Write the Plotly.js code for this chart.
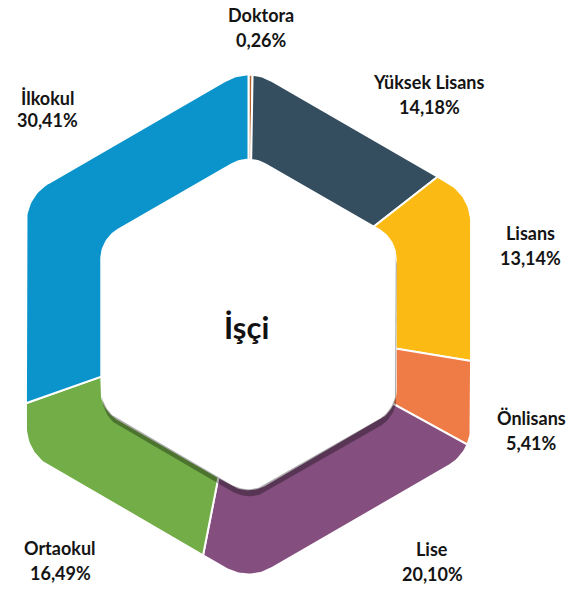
<!DOCTYPE html>
<html>
<head>
<meta charset="utf-8">
<script src="https://cdn.plot.ly/plotly-3.0.1.min.js"></script>
<style>html,body{margin:0;padding:0;background:#fff;}#chart{width:570px;height:589px;}</style>
</head>
<body>
<div id="chart"></div>
<script>
// ---- data ----
const categories = ['Doktora', 'Yüksek Lisans', 'Lisans', 'Önlisans', 'Lise', 'Ortaokul', 'İlkokul'];
const values = [0.26, 14.18, 13.14, 5.41, 20.10, 16.49, 30.41];
const colors = ['#b8652a', '#344d5f', '#fbbb14', '#ef7b46', '#844f7f', '#72ad47', '#0b94cb'];
const centerTitle = 'İşçi';

// ---- layout geometry (pixel space) ----
const W = 570, H = 589;
const cx = 248.5, cy = 324.5;
const R_OUT = 257, RHO_OUT = 45;
const R_IN = 170, RHO_IN = 34;
const labelPos = [[261, 15, 40], [429, 82, 107], [530, 233, 258], [531, 418, 443], [432, 549, 574], [60, 548, 573], [47, 98, 120]];

function ang(p) {
  let a = Math.atan2(p[0] - cx, -(p[1] - cy)) * 180 / Math.PI;
  return (a + 360) % 360;
}
function roundedHex(R, rho, n) {
  const pts = [];
  const d = R - rho / Math.sin(Math.PI / 3);
  for (let k = 0; k < 6; k++) {
    const va = k * 60;
    const ccx = cx + d * Math.sin(va * Math.PI / 180);
    const ccy = cy - d * Math.cos(va * Math.PI / 180);
    for (let j = 0; j <= n; j++) {
      const phi = (va - 30 + 60 * j / n) * Math.PI / 180;
      pts.push([ccx + rho * Math.sin(phi), ccy - rho * Math.cos(phi)]);
    }
  }
  return pts.map(p => ({p: p, a: ang(p)})).sort((u, v) => u.a - v.a);
}
function intersect(hex, theta) {
  const t = theta * Math.PI / 180;
  const d = [Math.sin(t), -Math.cos(t)];
  const n = hex.length;
  for (let i = 0; i < n; i++) {
    const P = hex[i], Q = hex[(i + 1) % n];
    let a0 = P.a, a1 = Q.a;
    if (a1 < a0) a1 += 360;
    let th = theta;
    if (th < a0) th += 360;
    if (th >= a0 && th <= a1) {
      const e = [Q.p[0] - P.p[0], Q.p[1] - P.p[1]];
      const w = [P.p[0] - cx, P.p[1] - cy];
      const den = d[0] * e[1] - d[1] * e[0];
      const tt = (w[0] * e[1] - w[1] * e[0]) / den;
      return [cx + tt * d[0], cy + tt * d[1]];
    }
  }
  return [cx, cy];
}
function arcPts(hex, a0, a1) {
  const res = [intersect(hex, a0)];
  hex.forEach(h => { if (h.a > a0 && h.a < a1) res.push(h.p); });
  res.push(intersect(hex, a1));
  return res;
}

const outer = roundedHex(R_OUT, RHO_OUT, 20);
const inner = roundedHex(R_IN, RHO_IN, 20);

const total = values.reduce((s, v) => s + v, 0);
const traces = [];
let cum = 0;
values.forEach((v, i) => {
  const a0 = cum / total * 360;
  cum += v;
  const a1 = cum / total * 360;
  const o = arcPts(outer, a0, a1);
  const inn = arcPts(inner, a0, a1).reverse();
  const poly = o.concat(inn);
  poly.push(poly[0]);
  traces.push({
    type: 'scatter', mode: 'lines', fill: 'toself',
    x: poly.map(p => p[0]), y: poly.map(p => p[1]),
    fillcolor: colors[i], line: {color: '#ffffff', width: 2},
    hoverinfo: 'skip', name: categories[i]
  });
});
// shadow of inner hexagon
const shadow = inner.map(h => [h.p[0] + 1, h.p[1] + 7]);
shadow.push(shadow[0]);
traces.push({
  type: 'scatter', mode: 'lines', fill: 'toself',
  x: shadow.map(p => p[0]), y: shadow.map(p => p[1]),
  fillcolor: 'rgba(0,0,0,0.33)', line: {width: 0, color: 'rgba(0,0,0,0)'}, hoverinfo: 'skip'
});
const innerPoly = inner.map(h => h.p);
innerPoly.push(innerPoly[0]);
traces.push({
  type: 'scatter', mode: 'lines', fill: 'toself',
  x: innerPoly.map(p => p[0]), y: innerPoly.map(p => p[1]),
  fillcolor: '#ffffff', line: {width: 0, color: '#ffffff'}, hoverinfo: 'skip'
});

const fontFam = 'Lato, "Open Sans", sans-serif';
const annotations = [];
categories.forEach((c, i) => {
  const lp = labelPos[i];
  const pct = values[i].toFixed(2).replace('.', ',') + '%';
  annotations.push({x: lp[0], y: lp[1], text: '<b>' + c + '</b>', showarrow: false, xanchor: 'center', yanchor: 'middle',
    font: {family: fontFam, size: 18, color: '#141414'}});
  annotations.push({x: lp[0], y: lp[2], text: '<b>' + pct + '</b>', showarrow: false, xanchor: 'center', yanchor: 'middle',
    font: {family: fontFam, size: 18, color: '#141414'}});
});
annotations.push({x: cx - 2, y: 327, text: '<b>' + centerTitle + '</b>', showarrow: false, xanchor: 'center', yanchor: 'middle',
  font: {family: fontFam, size: 31, color: '#111111'}});

const layout = {
  width: W, height: H,
  margin: {l: 0, r: 0, t: 0, b: 0, pad: 0},
  paper_bgcolor: '#ffffff', plot_bgcolor: '#ffffff',
  showlegend: false,
  xaxis: {range: [0, W], visible: false, fixedrange: true},
  yaxis: {range: [H, 0], visible: false, fixedrange: true},
  annotations: annotations
};
Plotly.newPlot('chart', traces, layout, {staticPlot: true, displayModeBar: false});
</script>
</body>
</html>
